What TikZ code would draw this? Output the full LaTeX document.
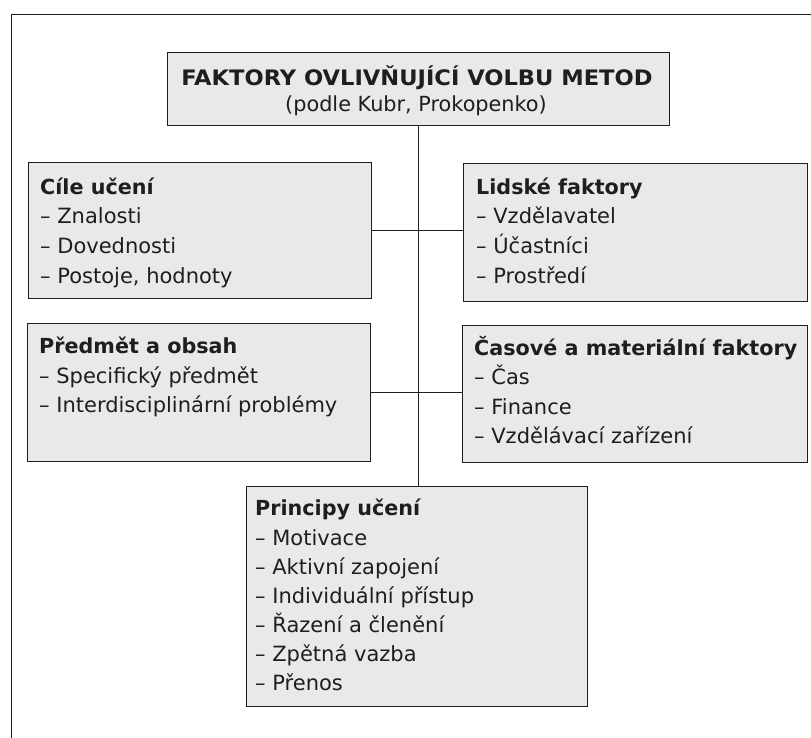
\documentclass[tikz,border=0pt]{standalone}
\usepackage{graphicx}
\usepackage{fontspec}
\setmainfont{DejaVu Sans}
\definecolor{boxfill}{HTML}{E9E9E9}
\definecolor{inkc}{HTML}{1E1E1E}
\begin{document}
\begin{tikzpicture}[x=1pt,y=-1pt,
  box/.style={draw=inkc, line width=1.1pt, fill=boxfill, inner sep=0, anchor=north west},
  link/.style={draw=inkc, line width=1.1pt},
  txt/.style={font=\fontsize{21}{24}\selectfont, text=inkc, inner sep=0, anchor=base west},
  hd/.style={txt, font=\fontsize{20.7}{24}\selectfont\bfseries},
  ttl/.style={font=\fontsize{21.3}{24}\selectfont\bfseries, text=inkc, inner sep=0, anchor=base},
  sub/.style={font=\fontsize{20.8}{24}\selectfont, text=inkc, inner sep=0, anchor=base}]
\useasboundingbox (0,0) rectangle (811,738);
\fill[white] (0,0) rectangle (811,738);
% outer frame
\coordinate (fb) at (11,738);
\coordinate (fc) at (11,15);
\coordinate (fr) at (811,15);
\draw[link, line width=1pt] (fb) -- (fc) -- (fr);
% boxes
\node[box, minimum width=502pt, minimum height=73pt] (title) at (167,52) {};
\node[box, minimum width=343pt, minimum height=136pt] (cile) at (28,162) {};
\node[box, minimum width=344pt, minimum height=138pt] (lidske) at (463,163) {};
\node[box, minimum width=343pt, minimum height=138pt] (predmet) at (27,323) {};
\node[box, minimum width=345pt, minimum height=137pt] (casove) at (462,325) {};
\node[box, minimum width=341pt, minimum height=220pt] (principy) at (246,486) {};
% connectors
\draw[link] (title.south) -- (title.south |- principy.north);
\draw[link] (cile.east) -- (cile.east -| lidske.west);
\draw[link] (predmet.east) -- (predmet.east -| casove.west);
% title
\node[ttl] (t1) at (417,86) {\scalebox{1.06}[1]{FAKTORY OVLIVŇUJÍCÍ VOLBU METOD}};
\node[sub] (t2) at (416,112) {(podle Kubr, Prokopenko)};
% Cíle učení
\node[hd] (c0) at (40,195) {Cíle učení};
\node[txt] (c1) at (40,224) {– Znalosti};
\node[txt] (c2) at (40,254) {– Dovednosti};
\node[txt] (c3) at (40,283) {– Postoje, hodnoty};
% Lidské faktory
\node[hd] (l0) at (476,195) {Lidské faktory};
\node[txt] (l1) at (476,224) {– Vzdělavatel};
\node[txt] (l2) at (476,254) {– Účastníci};
\node[txt] (l3) at (476,283) {– Prostředí};
% Předmět a obsah
\node[hd] (p0) at (39,353) {Předmět a obsah};
\node[txt] (p1) at (39,383) {– Specifický předmět};
\node[txt] (p2) at (39,412) {– Interdisciplinární problémy};
% Časové a materiální faktory
\node[hd] (m0) at (474,355) {Časové a materiální faktory};
\node[txt] (m1) at (474,384) {– Čas};
\node[txt] (m2) at (474,414) {– Finance};
\node[txt] (m3) at (474,443) {– Vzdělávací zařízení};
% Principy učení
\node[hd] (u0) at (255,515) {Principy učení};
\node[txt] (u1) at (255,545) {– Motivace};
\node[txt] (u2) at (255,574) {– Aktivní zapojení};
\node[txt] (u3) at (255,603) {– Individuální přístup};
\node[txt] (u4) at (255,632) {– Řazení a členění};
\node[txt] (u5) at (255,661) {– Zpětná vazba};
\node[txt] (u6) at (255,690) {– Přenos};
\end{tikzpicture}
\end{document}
